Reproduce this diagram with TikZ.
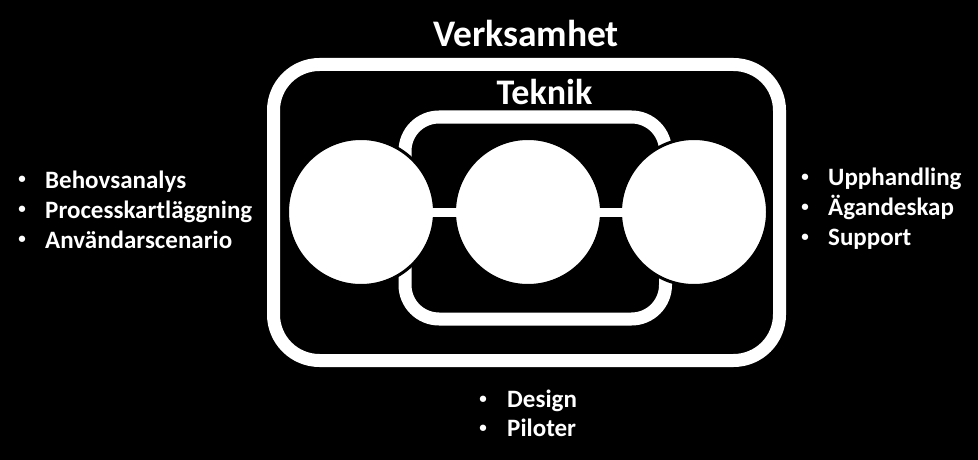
\documentclass[tikz,border=0pt]{standalone}
\usepackage{fontspec}
\setmainfont{Carlito}
\begin{document}
\begin{tikzpicture}[x=1pt,y=-1pt,
  frame/.style={draw=white, line width=13pt},
  ball/.style={circle, fill=white, draw=black, line width=3pt, minimum size=147pt, inner sep=0pt},
  bar/.style={draw=white, line width=9pt},
  title/.style={text=white, anchor=base, inner sep=0pt, font=\fontsize{37.5}{42}\selectfont\bfseries},
  item/.style={text=white, anchor=base west, inner sep=0pt, font=\fontsize{25}{28}\selectfont\bfseries},
  dot/.style={text=white, anchor=base, inner sep=0pt, font=\fontsize{15}{18}\selectfont\bfseries}]
\fill[black] (0,0) rectangle (978,460);
\useasboundingbox (0,0) rectangle (978,460);
% frames
\draw[frame, rounded corners=46pt] (273.5,64.5) rectangle (779.5,360.5);
\draw[frame, rounded corners=34pt] (405,117) rectangle (665.5,319);
% circles
\node[ball] (c1) at (361,212) {};
\node[ball] (c2) at (528,212) {};
\node[ball] (c3) at (694,212) {};
\draw[bar] (c1.center) -- (c2.center);
\draw[bar] (c2.center) -- (c3.center);
% titles
\node[title] (verk) at (526,46.5) {Verksamhet};
\node[title, font=\fontsize{36}{40}\selectfont\bfseries] (tek) at (544.5,104) {Teknik};
% left list
\node[dot] (lb1) at (22,183.5) {•};
\node[item] (l1) at (45,188) {Behovsanalys};
\node[dot] (lb2) at (22,213.5) {•};
\node[item] (l2) at (45,218) {Processkartläggning};
\node[dot] (lb3) at (22,243.5) {•};
\node[item] (l3) at (45,248) {Användarscenario};
% right list
\node[dot] (rb1) at (805,181) {•};
\node[item] (r1) at (828,185) {Upphandling};
\node[dot] (rb2) at (805,211) {•};
\node[item] (r2) at (828,215) {Ägandeskap};
\node[dot] (rb3) at (805,241) {•};
\node[item] (r3) at (828,245) {Support};
% bottom list
\node[dot] (bb1) at (483,403) {•};
\node[item] (b1) at (507,407) {Design};
\node[dot] (bb2) at (483,432) {•};
\node[item] (b2) at (507,436) {Piloter};
\end{tikzpicture}
\end{document}
